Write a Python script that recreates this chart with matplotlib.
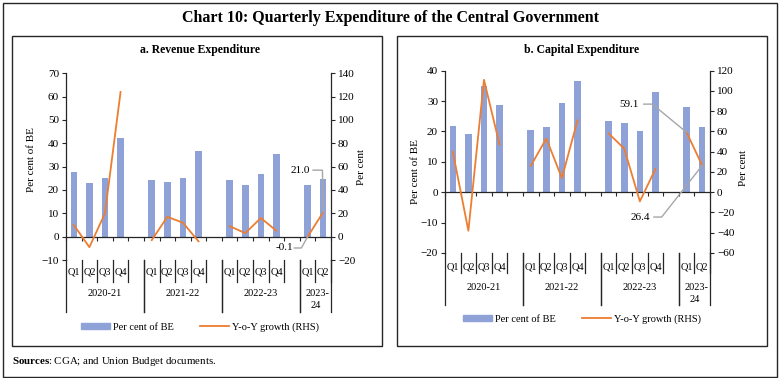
import numpy as np
import matplotlib
matplotlib.use('Agg')
import matplotlib.pyplot as plt
from matplotlib import transforms
from matplotlib.patches import Rectangle
from matplotlib.lines import Line2D
from matplotlib.patches import Patch

plt.rcParams['font.family'] = ['Liberation Serif', 'DejaVu Serif']
plt.rcParams['mathtext.fontset'] = 'custom'
plt.rcParams['mathtext.bf'] = 'Liberation Serif:bold'
plt.rcParams['mathtext.rm'] = 'Liberation Serif'

W, H = 779, 378

# datos
years = ['2020-21', '2021-22', '2022-23', '2023-\n24']
quarters = [['Q1', 'Q2', 'Q3', 'Q4'], ['Q1', 'Q2', 'Q3', 'Q4'],
            ['Q1', 'Q2', 'Q3', 'Q4'], ['Q1', 'Q2']]

rev_share = [27.6, 22.9, 25.2, 42.1, 24.3, 23.4, 25.0, 36.6, 24.3, 22.2, 26.9, 35.4, 22.2, 24.9]
rev_growth = [10, -9, 20, 124, -3, 17, 12, -4, 9, 3, 16, 5, -0.1, 21.0]
cap_share = [21.8, 19.2, 35.0, 28.7, 20.5, 21.4, 29.5, 36.7, 23.5, 22.8, 20.0, 33.0, 28.2, 21.6]
cap_growth = [40, -38, 111, 47, 26, 53, 14, 71, 58, 43, -9, 23, 59.1, 26.4]

BAR = '#8EA2D8'
LINE = '#ED7D31'
GREY = '#A6A6A6'
EDGE = '#262626'


def fy(ypx):
    return 1 - ypx / H


def fx(xpx):
    return xpx / W


# posiciones con un hueco entre años
pos = []
start = 0
for q in quarters:
    pos.append(np.arange(start, start + len(q)))
    start += len(q) + 1
n_slots = start - 1

fig = plt.figure(figsize=(W / 100, H / 100), dpi=100)

# marcos
fig.add_artist(Rectangle((fx(2.5), fy(376.5)), fx(774), (374 / H), fill=False,
                         lw=1.0, ec=EDGE, transform=fig.transFigure))
fig.add_artist(Rectangle((fx(12), fy(345.5)), fx(369.5), 310 / H, fill=False,
                         lw=1.0, ec=EDGE, transform=fig.transFigure))
fig.add_artist(Rectangle((fx(397), fy(345.5)), fx(369.5), 310 / H, fill=False,
                         lw=1.0, ec=EDGE, transform=fig.transFigure))

fig.text(fx(391), fy(18), 'Chart 10: Quarterly Expenditure of the Central Government',
         ha='center', va='center', fontsize=11.5, fontweight='bold')
fig.text(fx(12), fy(361), r'$\mathbf{Sources}$: CGA; and Union Budget documents.',
         ha='left', va='center', fontsize=7.8)


def panel(left, right, top, bottom, title, title_x, share, growth,
          ylim_l, yt_l, ylim_r, yt_r, qy, yy, short_end, long_end, leg_y,
          lab_l, lab_r, notes):
    ax = fig.add_axes([fx(left), fy(bottom), fx(right - left), (bottom - top) / H])
    ax2 = ax.twinx()
    ax.set_xlim(-0.5, n_slots - 0.5)
    ax.set_ylim(*ylim_l)
    ax2.set_ylim(*ylim_r)
    ax.set_yticks(yt_l)
    ax2.set_yticks(yt_r)

    k = 0
    for p in pos:
        ax.bar(p, share[k:k + len(p)], width=0.42, color=BAR, zorder=2)
        ax2.plot(p, growth[k:k + len(p)], color=LINE, lw=1.3, zorder=3)
        k += len(p)

    for s in ['top', 'right']:
        ax.spines[s].set_visible(False)
    ax.spines['bottom'].set_position(('data', 0))
    for s in ['top', 'left', 'bottom']:
        ax2.spines[s].set_visible(False)
    for a in (ax, ax2):
        for s in a.spines.values():
            s.set_color(EDGE)
            s.set_linewidth(0.9)
    ax.set_xticks(np.arange(-0.5, n_slots, 1.0))
    ax.tick_params(axis='x', length=3, width=0.8, labelbottom=False, color=EDGE)
    ax.tick_params(axis='y', length=3, width=0.8, labelsize=8, pad=2, color=EDGE)
    ax2.tick_params(axis='y', length=3, width=0.8, labelsize=8, pad=2, color=EDGE)

    # etiquetas multinivel
    tr = transforms.blended_transform_factory(ax.transData, fig.transFigure)
    for i, p in enumerate(pos):
        for j, q in enumerate(quarters[i]):
            ax.text(p[j], fy(qy), q, transform=tr, ha='center', va='center', fontsize=7.5)
            ax.add_line(Line2D([p[j] + 0.5] * 2, [fy(bottom), fy(short_end)],
                               transform=tr, color=EDGE, lw=0.9, clip_on=False))
        x0 = p[0] - 0.5
        x1 = p[-1] + 1.5 if i < len(pos) - 1 else p[-1] + 0.5
        ax.add_line(Line2D([x0, x0], [fy(bottom), fy(long_end)], transform=tr,
                           color=EDGE, lw=0.9, clip_on=False))
        ax.add_line(Line2D([x1, x1], [fy(bottom), fy(long_end)], transform=tr,
                           color=EDGE, lw=0.9, clip_on=False))
        if '\n' in years[i]:
            a, b = years[i].split('\n')
            ax.text((x0 + x1) / 2 + 0.15, fy(yy), a, transform=tr, ha='center', va='center', fontsize=7.5)
            ax.text((x0 + x1) / 2, fy(yy + 13), b, transform=tr, ha='center', va='center', fontsize=7.5)
        else:
            ax.text((x0 + x1) / 2, fy(yy), years[i], transform=tr, ha='center', va='center', fontsize=7.5)

    # notas con líneas guía
    for txt, tx, ty, path in notes:
        ax2.text(tx, ty, txt, ha='right', va='center', fontsize=8)
        xs, ys = zip(*path)
        ax2.plot(xs, ys, color=GREY, lw=1.0, zorder=4)

    fig.text(fx(title_x), fy(50), title, ha='center', va='center', fontsize=8.5, fontweight='bold')
    fig.text(fx(lab_l[0]), fy(lab_l[1]), 'Per cent of BE', rotation=90, ha='center', va='center', fontsize=8)
    fig.text(fx(lab_r[0]), fy(lab_r[1]), 'Per cent', rotation=90, ha='center', va='center', fontsize=8)

    handles = [Patch(color=BAR), Line2D([], [], color=LINE, lw=1.3)]
    fig.legend(handles, ['Per cent of BE', 'Y-o-Y growth (RHS)'], loc='center',
               bbox_to_anchor=(fx(title_x), fy(leg_y)), ncol=2, frameon=False,
               fontsize=7.5, handlelength=2.8, handleheight=0.5, columnspacing=2.5,
               handletextpad=0.3)
    return ax, ax2


panel(66, 331, 73.3, 260, 'a. Revenue Expenditure', 200, rev_share, rev_growth,
      (-10, 70), np.arange(-10, 71, 10), (-20, 140), np.arange(-20, 141, 20),
      272, 293, 282, 312, 327, (32, 160), (361, 167),
      [('-0.1', 14.05, -9.7, [(14.15, -9.7), (14.6, -9.7), (15, -0.1)]),
       ('21.0', 15.15, 57, [(15.35, 57), (15.95, 57), (16, 21.0)])])

panel(445, 710, 70.7, 253, 'b. Capital Expenditure', 582, cap_share, cap_growth,
      (-20, 40), np.arange(-20, 41, 10), (-60, 120), np.arange(-60, 121, 20),
      267, 287, 273, 305, 319, (415, 172), (743, 168),
      [('59.1', 11.95, 87, [(12.25, 87), (12.8, 87), (15, 59.1)]),
       ('26.4', 12.65, -24.5, [(12.9, -24.5), (13.4, -24.5), (16, 26.4)])])

fig.savefig('out.png', dpi=100)
